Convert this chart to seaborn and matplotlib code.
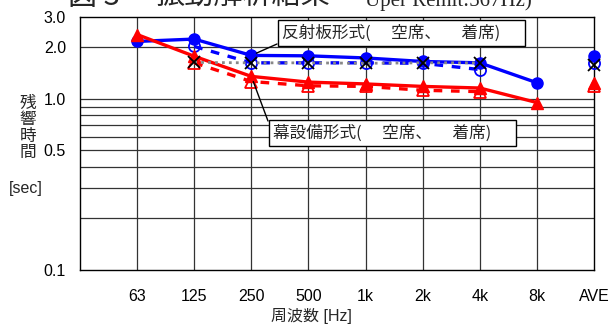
import numpy as np
import pandas as pd
import matplotlib
matplotlib.use("Agg")
import matplotlib.pyplot as plt
import seaborn as sns

# ---- data ----
categories = ["63", "125", "250", "500", "1k", "2k", "4k", "8k", "AVE"]
refl_empty = [2.16, 2.23, 1.79, 1.78, 1.73, 1.65, 1.62, 1.24]
refl_empty_ave = 1.77
refl_occ = [np.nan, 2.02, 1.62, 1.62, 1.62, 1.61, 1.48, np.nan]
refl_occ_ave = 1.62
calc_vals = [np.nan, 1.63, 1.62, 1.62, 1.61, 1.62, 1.62, np.nan]
calc_ave = 1.58
curt_empty = [2.37, 1.77, 1.35, 1.25, 1.22, 1.18, 1.155, 0.95]
curt_empty_ave = 1.24
curt_occ = [np.nan, 1.62, 1.26, 1.19, 1.18, 1.12, 1.10, np.nan]
curt_occ_ave = 1.18
yticks = [0.1, 0.5, 1.0, 2.0, 3.0]
ytick_labels = ["0.1", "0.5", "1.0", "2.0", "3.0"]

sns.set_style("white")
plt.rcParams["font.family"] = ["Liberation Sans", "Noto Sans CJK JP", "DejaVu Sans"]

W, H = 615, 325
fig = plt.figure(figsize=(W / 100, H / 100), dpi=100)
ax = fig.add_axes([80 / W, (H - 270) / H, 514 / W, 253 / H])

npts = len(categories) - 1
pos = np.arange(npts)
ave_pos = npts

BLUE = "#0000FF"
RED = "#FF0000"


def draw(vals, ave, color, ls, marker, mfc, lw, ms, mew, z):
    df = pd.DataFrame({"x": pos, "y": vals}).dropna()
    sns.lineplot(data=df, x="x", y="y", ax=ax, color=color, linestyle=ls,
                 linewidth=lw, marker=marker, markersize=ms,
                 markerfacecolor=mfc, markeredgecolor=color,
                 markeredgewidth=mew, errorbar=None, zorder=z,
                 clip_on=False, legend=False)
    sns.lineplot(x=[ave_pos], y=[ave], ax=ax, color=color, linestyle="none",
                 marker=marker, markersize=ms, markerfacecolor=mfc,
                 markeredgecolor=color, markeredgewidth=mew, errorbar=None,
                 zorder=z, clip_on=False, legend=False)


draw(refl_empty, refl_empty_ave, BLUE, "-", "o", BLUE, 2.4, 8, 1.0, 5)
draw(refl_occ, refl_occ_ave, BLUE, (0, (2.6, 2.6)), "o", "none", 2.4, 8, 1.3, 6)
draw(curt_empty, curt_empty_ave, RED, "-", "^", RED, 2.4, 9, 1.0, 7)
draw(curt_occ, curt_occ_ave, RED, (0, (2.6, 2.6)), "^", "none", 2.4, 9, 1.3, 8)
draw(calc_vals, calc_ave, "#000000", "none", "x", "#000000", 0, 8, 1.3, 10)
dfc = pd.DataFrame({"x": pos, "y": calc_vals}).dropna()
sns.lineplot(data=dfc, x="x", y="y", ax=ax, color="#888888",
             linestyle=(0, (1, 1.5)), linewidth=2.0, errorbar=None,
             zorder=9, legend=False)

ax.set_yscale("log")
ax.set_ylim(0.1, 3.0)
ax.set_xlim(-1, ave_pos)

# grid
gcol = "#333333"
for v in [0.2, 0.3, 0.4, 0.5, 0.6, 0.7, 0.8, 0.9, 1.0, 2.0]:
    ax.axhline(v, color=gcol, lw=0.9, zorder=1)
for p in pos:
    ax.axvline(p, color=gcol, lw=0.9, zorder=1)

ax.set_yticks(yticks)
ax.set_yticklabels(ytick_labels)
ax.yaxis.set_minor_locator(matplotlib.ticker.NullLocator())
ax.set_xticks(list(pos) + [ave_pos])
ax.set_xticklabels(categories)
ax.tick_params(axis="both", length=0, labelsize=11.5, colors="#000000")
ax.tick_params(axis="y", pad=10)
ax.tick_params(axis="x", pad=14)
ax.set_xlabel("")
ax.set_ylabel("")
for s in ax.spines.values():
    s.set_color("#000000")
    s.set_linewidth(1.0)
    s.set_visible(True)

# axis labels
fig.text(28 / W, (H - 128) / H, "残\n響\n時\n間", ha="center", va="center",
         fontsize=12, linespacing=1.12)
fig.text(26 / W, (H - 188) / H, "[sec]", ha="center", va="center", fontsize=11.5)
fig.text(311 / W, (H - 316) / H, "周波数 [Hz]", ha="center", va="center", fontsize=11.5)

# title (clipped at top in the reference)
fig.text(68 / W, (H - 5) / H, "図 3", ha="left", va="baseline", fontsize=21,
         family=["Noto Sans CJK JP", "DejaVu Sans"])
fig.text(155 / W, (H - 5) / H, "振動解析結果", ha="left", va="baseline", fontsize=21,
         family=["Noto Sans CJK JP", "DejaVu Sans"])
fig.text(365 / W, (H - 6) / H, "Uper Remit:567Hz)", ha="left", va="baseline",
         fontsize=15, family=["Liberation Serif", "DejaVu Serif"])

# callout boxes
box = dict(boxstyle="square,pad=0.25", fc="white", ec="#000000", lw=1.0)
ax.annotate("反射板形式(　 空席、　 着席)　 ", xy=(282, H - 33), xycoords="figure pixels",
            ha="left", va="center", fontsize=12, bbox=box, zorder=20,
            family=["Noto Sans CJK JP", "DejaVu Sans"], annotation_clip=False)
ax.annotate("", xy=(2, refl_empty[2]), xycoords="data",
            xytext=(277, H - 44), textcoords="figure pixels",
            arrowprops=dict(arrowstyle="-", color="#000000", lw=1.0,
                            shrinkA=0, shrinkB=4), zorder=19)
ax.annotate("幕設備形式(　 空席、　 着席)　 ", xy=(273, H - 133), xycoords="figure pixels",
            ha="left", va="center", fontsize=12, bbox=box, zorder=20,
            family=["Noto Sans CJK JP", "DejaVu Sans"], annotation_clip=False)
ax.annotate("", xy=(2, curt_empty[2]), xycoords="data",
            xytext=(268, H - 121), textcoords="figure pixels",
            arrowprops=dict(arrowstyle="-", color="#000000", lw=1.0,
                            shrinkA=0, shrinkB=4), zorder=19)

fig.savefig("out.png", dpi=100)
